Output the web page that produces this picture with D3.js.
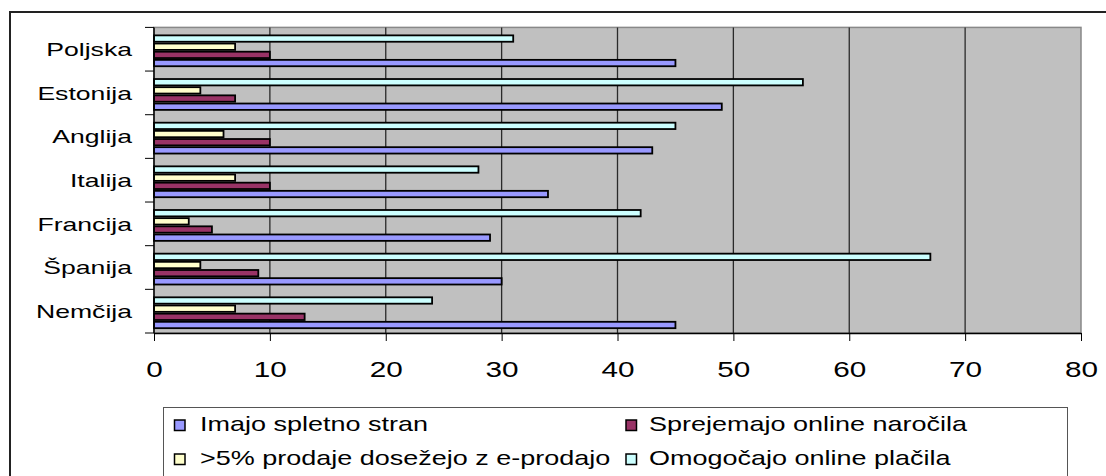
<!DOCTYPE html>
<html>
<head>
<meta charset="utf-8">
<script src="https://cdn.jsdelivr.net/npm/d3@7"></script>
<style>
  html, body { margin: 0; padding: 0; background: #fff; }
  svg { display: block; font-family: "Liberation Sans", Arial, sans-serif; }
</style>
</head>
<body>
<svg id="chart" width="1106" height="476"></svg>
<script>
// Countries, listed bottom to top as in the chart
const categories = ["Nemčija", "Španija", "Francija", "Italija", "Anglija", "Estonija", "Poljska"];

// Series values (percent of companies), same order as categories
const imajoSpletnoStran = [45, 30, 29, 34, 43, 49, 45];
const sprejemajoNarocila = [13, 9, 5, 10, 10, 7, 10];
const vecKot5Prodaje = [7, 4, 3, 7, 6, 4, 7];
const omogocajoPlacila = [24, 67, 42, 28, 45, 56, 31];

const seriesNames = [
  "Imajo spletno stran",
  "Sprejemajo online naročila",
  ">5% prodaje dosežejo z e-prodajo",
  "Omogočajo online plačila"
];
const seriesValues = [imajoSpletnoStran, sprejemajoNarocila, vecKot5Prodaje, omogocajoPlacila];
const seriesColors = ["#9999FF", "#993366", "#FFFFCC", "#CCFFFF"];

const xTicks = [0, 10, 20, 30, 40, 50, 60, 70, 80];

const svg = d3.select("#chart");
const stretch = 1.35;

// outer chart frame
svg.append("rect")
  .attr("x", 10).attr("y", 12).attr("width", 1110).attr("height", 480)
  .attr("fill", "#fff").attr("stroke", "#222").attr("stroke-width", 2);

const plot = { left: 154, right: 1081, top: 27.4, bottom: 333 };

const x = d3.scaleLinear().domain([0, 80]).range([plot.left, plot.right]);
const y0 = d3.scaleBand()
  .domain(categories.slice().reverse())
  .range([plot.top, plot.bottom])
  .padding(0);
const bw = y0.bandwidth();
// series inside each band, top to bottom: the last series sits on top
const y1 = d3.scaleBand()
  .domain([3, 2, 1, 0])
  .range([bw * 0.162, bw * 0.91])
  .padding(0);

// plot area background
svg.append("rect")
  .attr("x", plot.left).attr("y", plot.top)
  .attr("width", plot.right - plot.left).attr("height", plot.bottom - plot.top)
  .attr("fill", "#C0C0C0").attr("stroke", "#888").attr("stroke-width", 1.5);

// vertical gridlines
svg.append("g").selectAll("line")
  .data(xTicks.filter(t => t > 0 && t < 80))
  .join("line")
  .attr("x1", d => x(d)).attr("x2", d => x(d))
  .attr("y1", plot.top).attr("y2", plot.bottom)
  .attr("stroke", "#2a2a2a").attr("stroke-width", 1.3);

// bars
const groups = svg.append("g").selectAll("g")
  .data(categories)
  .join("g")
  .attr("transform", d => `translate(0,${y0(d)})`);

groups.selectAll("rect")
  .data(c => seriesValues.map((vals, si) => ({ si, v: vals[categories.indexOf(c)] })))
  .join("rect")
  .attr("x", x(0))
  .attr("y", d => y1(d.si) + 0.9)
  .attr("width", d => x(d.v) - x(0))
  .attr("height", y1.bandwidth() - 1.8)
  .attr("fill", d => seriesColors[d.si])
  .attr("stroke", "#000")
  .attr("stroke-width", 1.8);

// bottom axis
const xAxis = svg.append("g")
  .attr("transform", `translate(0,${plot.bottom})`)
  .call(d3.axisBottom(x).tickValues(xTicks).tickSize(8).tickSizeOuter(0).tickFormat(d3.format("d")));
xAxis.select(".domain").attr("stroke", "#000").attr("stroke-width", 1.5);
xAxis.selectAll(".tick line").attr("stroke", "#000").attr("stroke-width", 1);
xAxis.selectAll(".tick text")
  .attr("y", 0).attr("dy", null)
  .attr("transform", `translate(0,43.5) scale(${stretch},1)`)
  .attr("font-size", 22)
  .attr("font-family", "Liberation Sans, Arial, sans-serif")
  .attr("fill", "#000");

// left axis line and boundary ticks
svg.append("line")
  .attr("x1", plot.left).attr("x2", plot.left)
  .attr("y1", plot.top).attr("y2", plot.bottom)
  .attr("stroke", "#000").attr("stroke-width", 1.5);
const boundaries = categories.map(c => y0(c)).concat([plot.bottom]);
svg.append("g").selectAll("line")
  .data(boundaries)
  .join("line")
  .attr("x1", plot.left - 9).attr("x2", plot.left)
  .attr("y1", d => d).attr("y2", d => d)
  .attr("stroke", "#000").attr("stroke-width", 1);

// category labels
svg.append("g").selectAll("text")
  .data(categories)
  .join("text")
  .attr("transform", d => `translate(132,${y0(d) + bw / 2 + 6.8}) scale(1.4,1)`)
  .attr("text-anchor", "end")
  .attr("font-size", 19)
  .attr("fill", "#000")
  .text(d => d);

// legend
const legend = svg.append("g");
legend.append("rect")
  .attr("x", 163.5).attr("y", 407.5).attr("width", 904).attr("height", 100)
  .attr("fill", "#fff").attr("stroke", "#555").attr("stroke-width", 1);

const legendPos = [
  { sx: 174.5, tx: 200, row: 0 },
  { sx: 626, tx: 649, row: 0 },
  { sx: 174.5, tx: 200, row: 1 },
  { sx: 626, tx: 649, row: 1 }
];
const rowBase = [431, 465];

const items = legend.selectAll("g.item")
  .data(seriesNames.map((n, i) => ({ n, i })))
  .join("g").attr("class", "item");
items.append("rect")
  .attr("x", d => legendPos[d.i].sx)
  .attr("y", d => rowBase[legendPos[d.i].row] - 11)
  .attr("width", 10.5).attr("height", 10.5)
  .attr("fill", d => seriesColors[d.i])
  .attr("stroke", "#000").attr("stroke-width", 1.5);
items.append("text")
  .attr("transform", d => `translate(${legendPos[d.i].tx},${rowBase[legendPos[d.i].row]}) scale(${stretch},1)`)
  .attr("font-size", 20)
  .attr("fill", "#000")
  .text(d => d.n);
</script>
</body>
</html>
